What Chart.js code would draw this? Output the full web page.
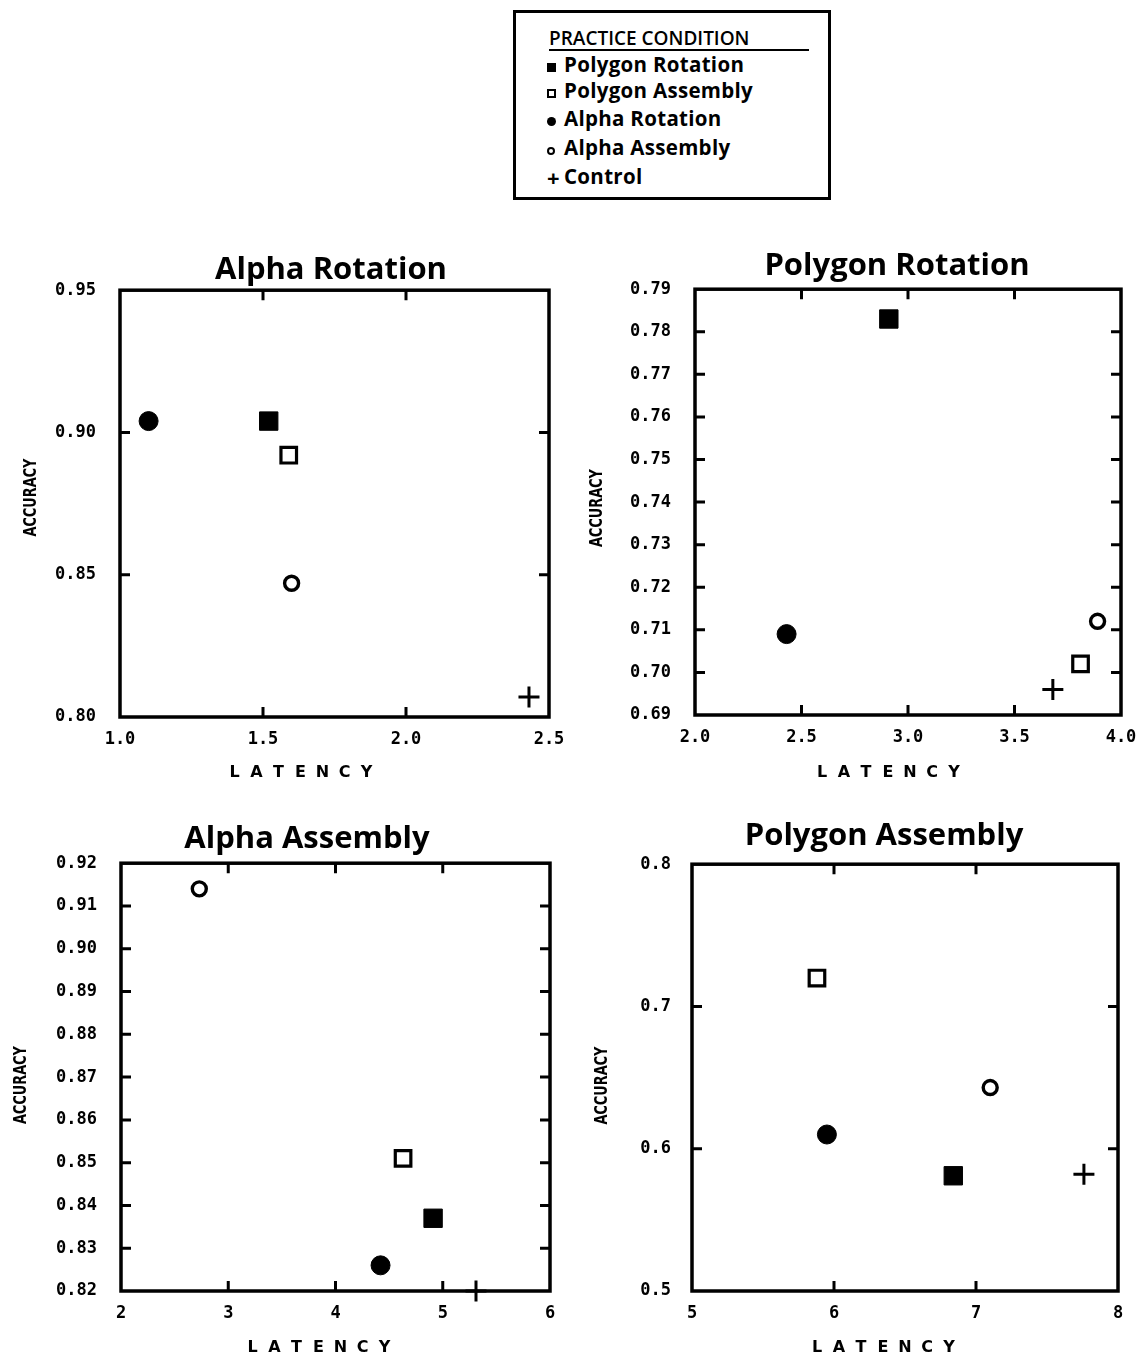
<!DOCTYPE html>
<html>
<head>
<meta charset="utf-8">
<script src="https://cdn.jsdelivr.net/npm/chart.js@4.4.1/dist/chart.umd.min.js"></script>
<style>
  html, body { margin: 0; padding: 0; background: #fff; }
  body { width: 1142px; height: 1359px; overflow: hidden; position: relative; }
  canvas { position: absolute; }
  #legend {
    position: absolute; left: 513px; top: 10px; width: 318px; height: 190px;
    box-sizing: border-box; border: 3px solid #000; background: #fff;
    font-family: 'Open Sans', sans-serif; color: #000;
  }
  #legend .head {
    position: absolute; left: 33px; top: 14px; width: 260px;
    font-size: 19px; font-weight: 600; letter-spacing: 0px;
    border-bottom: 2px solid #000; line-height: 22px; height: 22px;
  }
  #legend .item {
    position: absolute; left: 31px; height: 26px; line-height: 26px;
    font-size: 20.5px; font-weight: 700; white-space: nowrap; letter-spacing: 0.3px;
  }
  #legend .sym { display: inline-block; width: 17px; text-align: left; vertical-align: middle; position: relative; top: -3px; }
  .sq-f { display: inline-block; width: 9px; height: 9px; background: #000; }
  .sq-o { display: inline-block; width: 5px; height: 5px; border: 2.5px solid #000; background: #fff; }
  .ci-f { display: inline-block; width: 9px; height: 9px; border-radius: 50%; background: #000; }
  .ci-o { display: inline-block; width: 4px; height: 4px; border-radius: 50%; border: 2.5px solid #000; background: #fff; }
  .plus { font-weight: 700; font-size: 22px; line-height: 10px; }
</style>
</head>
<body>
<div id="legend">
  <div class="head">PRACTICE CONDITION</div>
  <div class="item" style="top:38px"><span class="sym"><span class="sq-f"></span></span>Polygon Rotation</div>
  <div class="item" style="top:64px"><span class="sym"><span class="sq-o"></span></span>Polygon Assembly</div>
  <div class="item" style="top:92px"><span class="sym"><span class="ci-f"></span></span>Alpha Rotation</div>
  <div class="item" style="top:121px"><span class="sym"><span class="ci-o"></span></span>Alpha Assembly</div>
  <div class="item" style="top:150px"><span class="sym" style="top:-1px"><span class="plus">+</span></span>Control</div>
</div>
<canvas id="c0"></canvas>
<canvas id="c1"></canvas>
<canvas id="c2"></canvas>
<canvas id="c3"></canvas>
<script>
// ---------------- DATA ----------------
const panelNames = ['Alpha Rotation', 'Polygon Rotation', 'Alpha Assembly', 'Polygon Assembly'];
const conditionNames = ['Polygon Rotation', 'Polygon Assembly', 'Alpha Rotation', 'Alpha Assembly', 'Control'];

// latency (x), one value per panel in panelNames order
const latencyPolygonRotation = [1.52, 2.91, 4.91, 6.84];
const latencyPolygonAssembly = [1.59, 3.81, 4.63, 5.88];
const latencyAlphaRotation   = [1.10, 2.43, 4.42, 5.95];
const latencyAlphaAssembly   = [1.60, 3.89, 2.73, 7.10];
const latencyControl         = [2.43, 3.68, 5.31, 7.76];

// accuracy (y), one value per panel in panelNames order
const accuracyPolygonRotation = [0.904, 0.783, 0.837, 0.581];
const accuracyPolygonAssembly = [0.892, 0.702, 0.851, 0.720];
const accuracyAlphaRotation   = [0.904, 0.709, 0.826, 0.610];
const accuracyAlphaAssembly   = [0.847, 0.712, 0.914, 0.643];
const accuracyControl         = [0.807, 0.696, 0.820, 0.582];

// tick values and labels per panel
const xTickValues = [
  [1.0, 1.5, 2.0, 2.5],
  [2.0, 2.5, 3.0, 3.5, 4.0],
  [2, 3, 4, 5, 6],
  [5, 6, 7, 8]
];
const xTickLabels = [
  ['1.0', '1.5', '2.0', '2.5'],
  ['2.0', '2.5', '3.0', '3.5', '4.0'],
  ['2', '3', '4', '5', '6'],
  ['5', '6', '7', '8']
];
const yTickValues = [
  [0.80, 0.85, 0.90, 0.95],
  [0.69, 0.70, 0.71, 0.72, 0.73, 0.74, 0.75, 0.76, 0.77, 0.78, 0.79],
  [0.82, 0.83, 0.84, 0.85, 0.86, 0.87, 0.88, 0.89, 0.90, 0.91, 0.92],
  [0.5, 0.6, 0.7, 0.8]
];
const yTickLabels = [
  ['0.80', '0.85', '0.90', '0.95'],
  ['0.69', '0.70', '0.71', '0.72', '0.73', '0.74', '0.75', '0.76', '0.77', '0.78', '0.79'],
  ['0.82', '0.83', '0.84', '0.85', '0.86', '0.87', '0.88', '0.89', '0.90', '0.91', '0.92'],
  ['0.5', '0.6', '0.7', '0.8']
];
const xAxisTitle = 'LATENCY';
const yAxisTitle = 'ACCURACY';

// ---------------- STYLE / LAYOUT ----------------
const seriesLatency = [latencyPolygonRotation, latencyPolygonAssembly, latencyAlphaRotation, latencyAlphaAssembly, latencyControl];
const seriesAccuracy = [accuracyPolygonRotation, accuracyPolygonAssembly, accuracyAlphaRotation, accuracyAlphaAssembly, accuracyControl];
const seriesStyle = [
  { pointStyle: 'rect',   pointRadius: 13,  backgroundColor: '#000', borderColor: '#000', borderWidth: 1 },
  { pointStyle: 'rect',   pointRadius: 11,  backgroundColor: '#fff', borderColor: '#000', borderWidth: 3.2 },
  { pointStyle: 'circle', pointRadius: 9.5, backgroundColor: '#000', borderColor: '#000', borderWidth: 1 },
  { pointStyle: 'circle', pointRadius: 7,   backgroundColor: '#fff', borderColor: '#000', borderWidth: 3.4 },
  { pointStyle: 'cross',  pointRadius: 10.5, backgroundColor: '#000', borderColor: '#000', borderWidth: 3 }
];

// canvas placement and axis-box sizes per panel
const layouts = [
  { left: 0,   top: 252, width: 662, height: 535, yw: 120, rw: 113, xh: 70, tpb: 1, ypad: 24, xt: { dx: -34, dy: 56 }, yt: { dx: -89, dy: -6 } },
  { left: 580, top: 248, width: 634, height: 537, yw: 115, rw: 93,  xh: 70, tpb: 4, ypad: 24, xt: { dx: -20, dy: 58 }, yt: { dx: -98, dy: 6 } },
  { left: 0,   top: 821, width: 614, height: 540, yw: 121, rw: 64,  xh: 70, tpb: 5, ypad: 24, xt: { dx: -17, dy: 57 }, yt: { dx: -100, dy: 8 } },
  { left: 575, top: 818, width: 618, height: 543, yw: 117, rw: 75,  xh: 70, tpb: 9, ypad: 21, xt: { dx: -22, dy: 57 }, yt: { dx: -90, dy: 8 } }
];

const framePlugin = {
  id: 'frame',
  beforeDatasetsDraw(chart) {
    const { ctx, chartArea: a, scales } = chart;
    ctx.save();
    ctx.strokeStyle = '#000';
    ctx.lineCap = 'square';
    ctx.lineWidth = 3.5;
    ctx.strokeRect(a.left, a.top, a.right - a.left, a.bottom - a.top);
    ctx.lineWidth = 3;
    ctx.lineCap = 'butt';
    const len = 10;
    const xs = scales.x, ys = scales.y;
    xs.ticks.forEach((t, i) => {
      if (i === 0 || i === xs.ticks.length - 1) return;
      const px = xs.getPixelForValue(t.value);
      ctx.beginPath();
      ctx.moveTo(px, a.bottom); ctx.lineTo(px, a.bottom - len);
      ctx.moveTo(px, a.top); ctx.lineTo(px, a.top + len);
      ctx.stroke();
    });
    ys.ticks.forEach((t, i) => {
      if (i === 0 || i === ys.ticks.length - 1) return;
      const py = ys.getPixelForValue(t.value);
      ctx.beginPath();
      ctx.moveTo(a.left, py); ctx.lineTo(a.left + len, py);
      ctx.moveTo(a.right, py); ctx.lineTo(a.right - len, py);
      ctx.stroke();
    });
    ctx.restore();
  },
  afterDraw(chart, args, opts) {
    const { ctx, chartArea: a } = chart;
    ctx.save();
    ctx.fillStyle = '#000';
    // x axis title, letter-spaced
    ctx.font = 'bold 16px "DejaVu Sans"';
    ctx.textAlign = 'center';
    ctx.textBaseline = 'middle';
    const letters = opts.xText.split('');
    const cx = (a.left + a.right) / 2 + opts.xt.dx;
    const cy = a.bottom + opts.xt.dy;
    const sp = 22;
    letters.forEach((ch, i) => {
      ctx.fillText(ch, cx + (i - (letters.length - 1) / 2) * sp, cy);
    });
    // y axis title, rotated and condensed
    ctx.font = 'bold 18px "DejaVu Sans"';
    const w = ctx.measureText(opts.yText).width;
    const target = 78;
    ctx.translate(a.left + opts.yt.dx, (a.top + a.bottom) / 2 + opts.yt.dy);
    ctx.rotate(-Math.PI / 2);
    ctx.scale(target / w, 1);
    ctx.fillText(opts.yText, 0, 0);
    ctx.restore();
  }
};

const tickFont = { family: '"DejaVu Sans Mono"', size: 17, weight: 'bold' };

panelNames.forEach((name, p) => {
  const L = layouts[p];
  const cv = document.getElementById('c' + p);
  cv.width = L.width; cv.height = L.height;
  cv.style.left = L.left + 'px'; cv.style.top = L.top + 'px';
  cv.style.width = L.width + 'px'; cv.style.height = L.height + 'px';

  const datasets = conditionNames.map((cond, s) => Object.assign({
    label: cond,
    data: [{ x: seriesLatency[s][p], y: seriesAccuracy[s][p] }],
    showLine: false,
    clip: false,
    pointHoverRadius: seriesStyle[s].pointRadius
  }, seriesStyle[s]));

  const xv = xTickValues[p], yv = yTickValues[p];

  new Chart(cv, {
    type: 'scatter',
    data: { datasets },
    plugins: [framePlugin],
    options: {
      responsive: false,
      animation: false,
      events: [],
      layout: { padding: 0 },
      plugins: {
        legend: { display: false },
        tooltip: { enabled: false },
        title: {
          display: true, text: name, color: '#000',
          font: { family: '"Open Sans"', size: 31, weight: 'bold', lineHeight: 1.2 },
          padding: { top: 0, bottom: L.tpb }
        },
        frame: { xText: xAxisTitle, yText: yAxisTitle, xt: L.xt, yt: L.yt }
      },
      scales: {
        x: {
          type: 'linear', position: 'bottom',
          min: xv[0], max: xv[xv.length - 1],
          afterBuildTicks: s => { s.ticks = xv.map(v => ({ value: v })); },
          afterFit: s => { s.height = L.xh; },
          grid: { display: false, drawTicks: false },
          border: { display: false },
          ticks: {
            color: '#000', font: tickFont, padding: 12, maxRotation: 0, autoSkip: false,
            callback: (v, i) => xTickLabels[p][i]
          }
        },
        y: {
          type: 'linear', position: 'left',
          min: yv[0], max: yv[yv.length - 1],
          afterBuildTicks: s => { s.ticks = yv.map(v => ({ value: v })); },
          afterFit: s => { s.width = L.yw; },
          grid: { display: false, drawTicks: false },
          border: { display: false },
          ticks: {
            color: '#000', font: tickFont, padding: L.ypad, autoSkip: false,
            callback: (v, i) => yTickLabels[p][i]
          }
        },
        yR: {
          type: 'linear', position: 'right', display: true,
          afterFit: s => { s.width = L.rw; },
          grid: { display: false, drawTicks: false },
          border: { display: false },
          ticks: { display: false }
        }
      }
    }
  });
});
</script>
</body>
</html>
